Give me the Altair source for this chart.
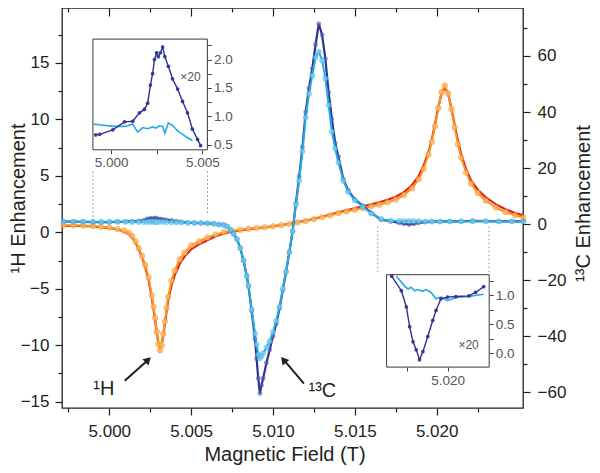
import altair as alt
import pandas as pd

# ---------------- data ----------------
field_1h = [4.9972, 4.9978, 4.9984, 4.9990, 4.9995, 5.0000, 5.0005, 5.0009, 5.0012, 5.0014,
            5.0016, 5.0018, 5.0020, 5.0022, 5.0024, 5.0026, 5.0027, 5.0028, 5.0029, 5.0030,
            5.0031, 5.0032, 5.0033, 5.0034, 5.0035, 5.0036, 5.0038, 5.0040, 5.0043, 5.0046,
            5.0050, 5.0055, 5.0060, 5.0065, 5.0070, 5.0075, 5.0080, 5.0085, 5.0090, 5.0095,
            5.0100, 5.0105, 5.0110, 5.0115, 5.0120, 5.0125, 5.0130, 5.0135, 5.0140, 5.0145,
            5.0150, 5.0155, 5.0160, 5.0165, 5.0170, 5.0175, 5.0180, 5.0185, 5.0189, 5.0192,
            5.0195, 5.0197, 5.0199, 5.0201, 5.0203, 5.0205, 5.0207, 5.0209, 5.0211, 5.0213,
            5.0215, 5.0218, 5.0221, 5.0225, 5.0230, 5.0236, 5.0242, 5.0248, 5.0253]
h1_orange = [0.62, 0.62, 0.60, 0.56, 0.50, 0.42, 0.30, 0.15, -0.05, -0.35,
             -0.80, -1.40, -2.10, -2.90, -4.00, -5.60, -6.60, -7.60, -8.80, -9.90,
             -10.45, -10.00, -9.00, -7.90, -6.70, -5.70, -4.30, -3.40, -2.40, -1.80,
             -1.15, -0.80, -0.45, -0.20, 0.00, 0.12, 0.22, 0.32, 0.38, 0.45,
             0.53, 0.63, 0.74, 0.88, 1.00, 1.15, 1.33, 1.50, 1.70, 1.85,
             2.00, 2.15, 2.30, 2.45, 2.65, 2.90, 3.30, 3.90, 4.70, 5.60,
             6.90, 8.00, 9.40, 11.00, 12.40, 13.00, 12.30, 10.90, 9.30, 7.80,
             6.60, 5.30, 4.30, 3.50, 2.80, 2.20, 1.80, 1.50, 1.30]
h1_red = [0.58, 0.58, 0.56, 0.52, 0.46, 0.38, 0.25, 0.08, -0.15, -0.45,
          -0.90, -1.50, -2.20, -3.10, -4.20, -5.80, -6.80, -7.80, -8.90, -9.80,
          -10.20, -9.90, -9.10, -8.10, -7.00, -6.00, -4.70, -3.80, -2.80, -2.15,
          -1.50, -1.05, -0.70, -0.35, -0.10, 0.05, 0.17, 0.28, 0.36, 0.44,
          0.53, 0.64, 0.76, 0.90, 1.03, 1.20, 1.38, 1.57, 1.78, 1.95,
          2.12, 2.30, 2.47, 2.65, 2.88, 3.15, 3.55, 4.20, 5.00, 5.90,
          7.10, 8.20, 9.60, 11.10, 12.30, 12.80, 12.30, 11.00, 9.50, 8.10,
          6.90, 5.60, 4.60, 3.80, 3.10, 2.50, 2.05, 1.70, 1.50]

field_13c = [4.9972, 4.9978, 4.9984, 4.9990, 4.9995, 5.0000, 5.0005, 5.0010, 5.0014, 5.0018,
             5.0021, 5.0023, 5.0025, 5.0027, 5.0028, 5.0029, 5.0031, 5.0033, 5.0035, 5.0038,
             5.0041, 5.0044, 5.0048, 5.0052, 5.0056, 5.0060, 5.0064, 5.0067, 5.0070, 5.0072,
             5.0074, 5.0076, 5.0078, 5.0080, 5.0082, 5.0084, 5.0085, 5.0087, 5.0089, 5.0090,
             5.0091, 5.0092, 5.0093, 5.0094, 5.0096, 5.0098, 5.0100, 5.0102, 5.0104, 5.0106,
             5.0108, 5.0110, 5.0112, 5.0114, 5.0116, 5.0118, 5.0120, 5.0122, 5.0124, 5.0126,
             5.0128, 5.0130, 5.0132, 5.0134, 5.0136, 5.0138, 5.0140, 5.0143, 5.0146, 5.0150,
             5.0155, 5.0160, 5.0166, 5.0172, 5.0177, 5.0180, 5.0183, 5.0186, 5.0189, 5.0193,
             5.0197, 5.0202, 5.0208, 5.0215, 5.0222, 5.0230, 5.0238, 5.0246, 5.0253]
c13_dark = [0.90, 0.90, 0.85, 0.72, 0.70, 0.76, 0.85, 0.90, 1.00, 1.12,
            1.35, 1.85, 2.12, 2.05, 2.20, 2.06, 1.88, 1.68, 1.50, 1.30,
            1.05, 0.80, 0.55, 0.45, 0.40, 0.30, 0.15, -0.10, -0.30, -0.80,
            -2.00, -3.50, -5.40, -8.50, -13.00, -18.50, -22.00, -31.00, -41.00, -48.00,
            -55.00, -60.40, -57.50, -55.00, -49.50, -44.80, -40.00, -35.50, -30.00, -23.50,
            -17.00, -10.00, -2.50, 7.50, 17.00, 27.50, 40.00, 48.50, 55.50, 64.00,
            71.50, 67.50, 59.00, 47.00, 37.50, 29.00, 24.00, 16.00, 12.00, 8.80,
            6.50, 4.00, 1.60, 1.05, 0.45, 0.15, -0.10, 0.10, 0.45, 0.75,
            0.92, 0.97, 0.98, 1.00, 1.15, 1.10, 1.00, 1.00, 1.00]
c13_light = [0.88, 0.86, 0.85, 0.85, 0.84, 0.82, 0.82, 0.85, 0.75, 0.80,
             0.79, 0.81, 0.80, 0.83, 0.82, 0.72, 0.86, 0.82, 0.76, 0.70,
             0.64, 0.58, 0.50, 0.45, 0.40, 0.30, 0.15, -0.10, -0.30, -0.80,
             -2.00, -3.50, -5.40, -8.50, -13.00, -18.50, -22.00, -30.50, -39.00, -43.00,
             -46.50, -47.80, -47.00, -46.00, -44.00, -41.80, -38.50, -34.50, -29.50, -23.00,
             -17.00, -10.00, -2.50, 7.00, 15.50, 26.00, 38.00, 46.50, 53.00, 59.50,
             61.50, 58.50, 52.00, 42.50, 33.00, 27.00, 22.00, 15.50, 11.50, 8.50,
             6.20, 3.80, 1.80, 1.20, 1.12, 1.10, 1.10, 1.08, 1.06, 0.97,
             0.95, 0.92, 0.96, 0.98, 1.02, 1.00, 0.95, 0.95, 0.95]

# inset 1 (x20)
in1_field_dark = [4.99915, 4.99937, 5.00009, 5.00073, 5.00118, 5.00155, 5.00182, 5.00200,
                  5.00215, 5.00227, 5.00237, 5.00249, 5.00258, 5.00270, 5.00282, 5.00294,
                  5.00313, 5.00336, 5.00364, 5.00391, 5.00418, 5.00445, 5.00473, 5.00490]
in1_dark = [0.67, 0.68, 0.76, 0.90, 0.91, 1.06, 1.12, 1.23,
            1.55, 1.75, 2.00, 2.12, 2.05, 2.12, 2.22, 2.05,
            1.88, 1.66, 1.48, 1.26, 1.06, 0.77, 0.59, 0.48]
in1_field_light = [4.99905, 4.99937, 5.00009, 5.00073, 5.00118, 5.00145, 5.00173, 5.00200,
                   5.00227, 5.00245, 5.00264, 5.00282, 5.00294, 5.00313, 5.00336, 5.00364,
                   5.00391, 5.00418, 5.00445]
in1_light = [0.86, 0.85, 0.82, 0.82, 0.86, 0.72, 0.80, 0.78,
             0.81, 0.79, 0.83, 0.82, 0.70, 0.88, 0.84, 0.74,
             0.68, 0.62, 0.57]

# inset 2 (x20)
in2_field_dark = [5.01655, 5.01715, 5.01746, 5.01766, 5.01787, 5.01807, 5.01827, 5.01848,
                  5.01878, 5.01909, 5.01929, 5.01959, 5.02000, 5.02051, 5.02132, 5.02173, 5.02223]
in2_dark = [1.33, 1.08, 0.80, 0.46, 0.20, 0.06, -0.11, 0.03,
            0.29, 0.57, 0.74, 0.94, 0.97, 0.98, 0.99, 1.05, 1.15]
in2_field_light = [5.01685, 5.01735, 5.01756, 5.01776, 5.01797, 5.01817, 5.01848, 5.01868,
                   5.01898, 5.01929, 5.01959, 5.02000, 5.02030, 5.02071, 5.02132, 5.02223]
in2_light = [1.33, 1.16, 1.11, 1.14, 1.08, 1.10, 1.07, 1.10,
             1.05, 0.94, 0.97, 0.91, 0.94, 0.97, 0.98, 1.02]

# axis ticks
x_major = [5.000, 5.005, 5.010, 5.015, 5.020]
x_minor = [4.9975, 5.0025, 5.0075, 5.0125, 5.0175, 5.0225]
h_major = [-15, -10, -5, 0, 5, 10, 15]
h_minor = [-12.5, -7.5, -2.5, 2.5, 7.5, 12.5, 17.5]
c_major = [-60, -40, -20, 0, 20, 40, 60]
c_minor = [-50, -30, -10, 10, 30, 50, 70]
in1_xticks = [5.000, 5.0025, 5.005]
in1_yticks = [0.5, 0.75, 1.0, 1.25, 1.5, 1.75, 2.0, 2.25]
in2_xticks = [5.0175, 5.020]
in2_yticks = [0.0, 0.25, 0.5, 0.75, 1.0, 1.25]

# zoom-region guides (dotted), arrows and labels
guide_field = [4.9990, 5.0060, 5.0164, 5.0232]
guide_top = [5.4, 5.4, 0.5, 0.5]
guide_bottom = [0.6, 1.6, -3.5, -3.5]
arrow_x0 = [5.000943, 5.011892]
arrow_y0 = [-13.147, -13.405]
arrow_x1 = [5.002281, 5.010736]
arrow_y1 = [-11.422, -11.422]
head_x = [5.002372, 5.010645]
head_y = [-11.293, -11.293]
head_angle = [46, 320]
label_text = ["¹H", "¹³C"]
label_x = [4.999665, 5.013017]
label_y = [-13.836, -14.095]

# ---------------- layout ----------------
W, H = 461, 400
XDOM = [4.997111, 5.025274]
HDOM = [-15.56, 19.87]
CDOM = [-65.59, 77.12]
IN1_XDOM = [4.9990, 5.00527]
IN1_YDOM = [0.407, 2.361]
IN2_XDOM = [5.01624, 5.02257]
IN2_YDOM = [-0.237, 1.356]
IN1_XR = [30.9, 145.4]
IN1_YR = [141.8, 31.1]
IN2_XR = [324.6, 427.2]
IN2_YR = [359.1, 266.7]

FONT = "Liberation Sans"
INK = "#231f20"
RED = "#e2231a"
ORANGE = "#f7941d"
ORANGE_PT = "#fbb46a"
DARK = "#2e3192"
DARK_PT = "#5a5cb0"
LIGHT = "#27aae1"
LIGHT_PT = "#7dd0f2"
GREY = "#555555"


def scale(dom, rng=None):
    if rng is None:
        return alt.Scale(domain=dom, nice=False, zero=False)
    return alt.Scale(domain=dom, range=rng, nice=False, zero=False)


def tick_axis(orient, values, size, offset=0):
    return alt.Axis(orient=orient, values=values, tickSize=size, labels=False,
                    domain=False, grid=False, ticks=True, tickColor=INK,
                    tickWidth=1.2, offset=offset, title=None)


df_h = pd.DataFrame({"f": field_1h, "orange": h1_orange, "red": h1_red})
df_c = pd.DataFrame({"f": field_13c, "dark": c13_dark, "light": c13_light})

x_bottom = alt.Axis(orient="bottom", values=x_major, format=".3f", tickSize=7,
                    labelPadding=8, labelFontSize=17, labelColor=INK, tickColor=INK,
                    tickWidth=1.2, domain=False, grid=False, labelFlush=False,
                    labelOverlap=False, title="Magnetic Field (T)", titleFontSize=20,
                    titleFontWeight="normal", titleColor=INK, titleX=222.5, titleY=52,
                    titleAlign="center", titleBaseline="alphabetic")
y_left = alt.Axis(orient="left", values=h_major, format="d", tickSize=7,
                  labelPadding=6, labelFontSize=17, labelColor=INK, tickColor=INK,
                  tickWidth=1.2, domain=False, grid=False, labelOverlap=False,
                  labelFlush=False,
                  title="¹H Enhancement", titleFontSize=20, titleFontWeight="normal",
                  titleColor=INK, titleAngle=270, titleX=-44, titleY=190,
                  titleAlign="center", titleBaseline="middle")
y_right = alt.Axis(orient="right", values=c_major, format="d", tickSize=7,
                   labelPadding=7, labelFontSize=17, labelColor=INK, tickColor=INK,
                   tickWidth=1.2, domain=False, grid=False, labelOverlap=False,
                   labelFlush=False,
                   title="¹³C Enhancement", titleFontSize=20, titleFontWeight="normal",
                   titleColor=INK, titleAngle=270, titleX=60, titleY=195,
                   titleAlign="center", titleBaseline="middle")

red_line = alt.Chart(df_h).mark_line(color=RED, strokeWidth=2.2).encode(
    x=alt.X("f:Q", scale=scale(XDOM), axis=x_bottom),
    y=alt.Y("red:Q", scale=scale(HDOM), axis=y_left),
)
orange_line = alt.Chart(df_h).mark_line(color=ORANGE, strokeWidth=2.0).encode(
    x=alt.X("f:Q", scale=scale(XDOM), axis=tick_axis("bottom", x_minor, 4)),
    y=alt.Y("orange:Q", scale=scale(HDOM), axis=tick_axis("left", h_minor, 4)),
)
orange_pts = alt.Chart(df_h).mark_circle(size=30, color=ORANGE_PT, opacity=0.75,
                                         stroke=ORANGE, strokeWidth=0.8).encode(
    x=alt.X("f:Q", scale=scale(XDOM), axis=tick_axis("bottom", x_major, 8, offset=-H)),
    y=alt.Y("orange:Q", scale=scale(HDOM), axis=None),
)
dark_line = alt.Chart(df_c).mark_line(color=DARK, strokeWidth=2.2).encode(
    x=alt.X("f:Q", scale=scale(XDOM), axis=tick_axis("bottom", x_minor, 4, offset=-H)),
    y=alt.Y("dark:Q", scale=scale(CDOM), axis=y_right),
)
dark_pts = alt.Chart(df_c).mark_circle(size=24, color=DARK_PT, opacity=0.6).encode(
    x=alt.X("f:Q", scale=scale(XDOM), axis=None),
    y=alt.Y("dark:Q", scale=scale(CDOM), axis=tick_axis("right", c_minor, 4)),
)
light_line = alt.Chart(df_c).mark_line(color=LIGHT, strokeWidth=2.0).encode(
    x=alt.X("f:Q", scale=scale(XDOM), axis=None),
    y=alt.Y("light:Q", scale=scale(CDOM), axis=None),
)
light_pts = alt.Chart(df_c).mark_circle(size=26, color=LIGHT_PT, opacity=0.7,
                                        stroke=LIGHT, strokeWidth=0.7).encode(
    x=alt.X("f:Q", scale=scale(XDOM), axis=None),
    y=alt.Y("light:Q", scale=scale(CDOM), axis=None),
)

df_guides = pd.DataFrame({"f": guide_field, "top": guide_top, "bot": guide_bottom})
guides = alt.Chart(df_guides).mark_rule(color="#8a8a8a", strokeWidth=1,
                                        strokeDash=[1.5, 2.5]).encode(
    x=alt.X("f:Q", scale=scale(XDOM), axis=None),
    y=alt.Y("top:Q", scale=scale(HDOM), axis=None),
    y2="bot:Q",
)


def inset_layers(xdom, xr, ydom, yr, xticks, yticks, fd, vd, fl, vl, txt_x, txt_y):
    x_off = yr[0] - H
    y_off = xr[1] - W
    frame_df = pd.DataFrame({"x0": [xdom[0]], "x1": [xdom[1]], "y0": [ydom[0]], "y1": [ydom[1]]})
    xa = alt.Axis(orient="bottom", values=xticks, offset=x_off, tickSize=4,
                  labelPadding=2, labelFontSize=13.5, labelColor=GREY, tickColor="#444",
                  tickWidth=1, domain=False, grid=False, labelFlush=False,
                  labelOverlap=False, title=None,
                  labelExpr="abs(datum.value*200 - round(datum.value*200)) < 0.01 ? format(datum.value, '.3f') : ''")
    ya = alt.Axis(orient="right", values=yticks, offset=y_off, tickSize=4,
                  labelPadding=2, labelFontSize=13.5, labelColor=GREY, tickColor="#444",
                  tickWidth=1, domain=False, grid=False, labelFlush=False,
                  labelOverlap=False, title=None,
                  labelExpr="abs(datum.value*2 - round(datum.value*2)) < 0.01 ? format(datum.value, '.1f') : ''")
    frame = alt.Chart(frame_df).mark_rect(fill="white", stroke="#3a3a3a", strokeWidth=1).encode(
        x=alt.X("x0:Q", scale=scale(xdom, xr), axis=xa),
        x2="x1:Q",
        y=alt.Y("y0:Q", scale=scale(ydom, yr), axis=ya),
        y2="y1:Q",
    )
    ddf = pd.DataFrame({"f": fd, "v": vd})
    ldf = pd.DataFrame({"f": fl, "v": vl})
    ex = lambda: alt.X("f:Q", scale=scale(xdom, xr), axis=None)
    ey = lambda: alt.Y("v:Q", scale=scale(ydom, yr), axis=None)
    lline = alt.Chart(ldf).mark_line(color=LIGHT, strokeWidth=1.6).encode(x=ex(), y=ey())
    dline = alt.Chart(ddf).mark_line(color=DARK, strokeWidth=1.4).encode(x=ex(), y=ey())
    dpts = alt.Chart(ddf).mark_circle(size=14, color=DARK, opacity=0.9).encode(x=ex(), y=ey())
    tdf = pd.DataFrame({"x": [txt_x], "y": [txt_y], "t": ["×20"]})
    txt = alt.Chart(tdf).mark_text(fontSize=12, color=GREY, font=FONT).encode(
        x=alt.X("x:Q", scale=scale(xdom, xr), axis=None),
        y=alt.Y("y:Q", scale=scale(ydom, yr), axis=None),
        text="t:N",
    )
    return [frame, lline, dline, dpts, txt]


inset1 = inset_layers(IN1_XDOM, IN1_XR, IN1_YDOM, IN1_YR, in1_xticks, in1_yticks,
                      in1_field_dark, in1_dark, in1_field_light, in1_light, 5.004343, 1.69)
inset2 = inset_layers(IN2_XDOM, IN2_XR, IN2_YDOM, IN2_YR, in2_xticks, in2_yticks,
                      in2_field_dark, in2_dark, in2_field_light, in2_light, 5.0213, 0.136)

df_arrow = pd.DataFrame({"x0": arrow_x0, "y0": arrow_y0, "x1": arrow_x1, "y1": arrow_y1})
arrows = alt.Chart(df_arrow).mark_rule(color=INK, strokeWidth=2).encode(
    x=alt.X("x0:Q", scale=scale(XDOM), axis=None),
    y=alt.Y("y0:Q", scale=scale(HDOM), axis=None),
    x2="x1:Q", y2="y1:Q",
)
df_head = pd.DataFrame({"x": head_x, "y": head_y, "a": head_angle})
heads = alt.Chart(df_head).mark_point(shape="triangle-up", filled=True, size=75,
                                      color=INK, opacity=1).encode(
    x=alt.X("x:Q", scale=scale(XDOM), axis=None),
    y=alt.Y("y:Q", scale=scale(HDOM), axis=None),
    angle=alt.Angle("a:Q", scale=None),
)
df_lab = pd.DataFrame({"x": label_x, "y": label_y, "t": label_text})
labels = alt.Chart(df_lab).mark_text(fontSize=20, color=INK, font=FONT).encode(
    x=alt.X("x:Q", scale=scale(XDOM), axis=None),
    y=alt.Y("y:Q", scale=scale(HDOM), axis=None),
    text="t:N",
)

layers = [red_line, orange_line, orange_pts, dark_line, dark_pts, light_line, light_pts,
          guides] + inset1 + inset2 + [arrows, heads, labels]

chart = alt.layer(*layers).resolve_scale(
    x="independent", y="independent"
).resolve_axis(
    x="independent", y="independent"
).properties(
    width=W, height=H,
    autosize=alt.AutoSizeParams(type="none"),
    padding={"left": 54, "top": 0, "right": 69, "bottom": 57},
).configure(
    font=FONT
).configure_view(
    stroke=INK, strokeWidth=1.3
)

chart.save("out.html", embed_options={"renderer": "svg", "actions": False})
